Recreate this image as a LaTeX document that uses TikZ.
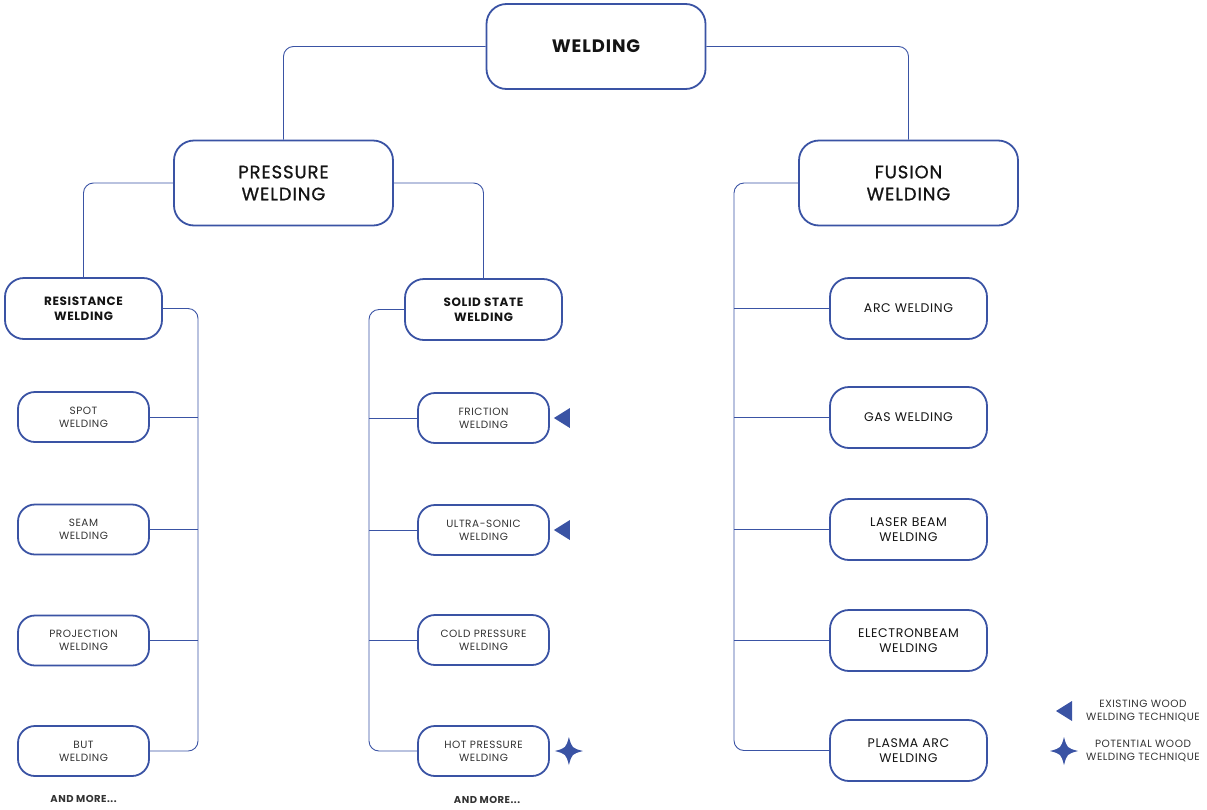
\documentclass[tikz,border=0pt]{standalone}
\usepackage{fontspec}
\setmainfont{Poppins}[LetterSpace=5]
\newfontfamily\headfont{Poppins}[LetterSpace=5, FakeBold=0.8]
\definecolor{wblue}{HTML}{3A53A4}
\definecolor{wtext}{HTML}{141414}
\definecolor{wgray}{HTML}{333333}

\begin{document}
\begin{tikzpicture}[x=1pt,y=-1pt,
  box/.style={draw=wblue, line width=1.8pt, align=center, inner sep=0pt, text=wtext, fill=white},
  bigbox/.style={box, minimum width=219pt, minimum height=85pt, rounded corners=20pt,
    font=\headfont\fontsize{18}{22}\selectfont},
  midbox/.style={box, minimum width=157pt, minimum height=61pt, rounded corners=19pt,
    font=\fontsize{12.5}{15}\selectfont},
  leafbox/.style={box, minimum width=131pt, minimum height=50pt, rounded corners=17pt,
    font=\fontsize{10.5}{13}\selectfont, text=wgray},
  conn/.style={draw=wblue, line width=0.9pt, rounded corners=10pt},
  more/.style={font=\fontsize{10}{10}\selectfont\bfseries, text=wgray},
  legend/.style={align=center, font=\fontsize{10.5}{13}\selectfont, text=wgray},
  existing/.pic={\fill[wblue] (-8,0) -- (8,-10) -- (8,10) -- cycle;},
  potential/.pic={\fill[wblue] (0,-14) .. controls (3,-3) .. (14,0)
     .. controls (3,3) .. (0,14) .. controls (-3,3) .. (-14,0)
     .. controls (-3,-3) .. cycle;}]

\useasboundingbox (0,0) rectangle (1207,809);

% top level
\node[bigbox, font=\fontsize{18}{22}\selectfont\bfseries] (weld) at (596,46.5) {WELDING};
\node[bigbox] (press) at (283.5,183) {PRESSURE\\WELDING};
\node[bigbox] (fusion) at (908.5,183) {FUSION\\WELDING};

% pressure welding branches
\node[midbox, font=\fontsize{12}{15}\selectfont\bfseries] (resist) at (83.5,308.5) {RESISTANCE\\WELDING};
\node[midbox, font=\fontsize{12}{15}\selectfont\bfseries] (solid) at (483.5,309.5) {SOLID STATE\\WELDING};

% resistance welding
\node[leafbox] (spot) at (83.5,417) {SPOT\\WELDING};
\node[leafbox] (seam) at (83.5,529.5) {SEAM\\WELDING};
\node[leafbox] (proj) at (83.5,640.5) {PROJECTION\\WELDING};
\node[leafbox] (but) at (83.5,751) {BUT\\WELDING};

% solid state welding
\node[leafbox] (friction) at (483.5,418) {FRICTION\\WELDING};
\node[leafbox] (ultra) at (483.5,530) {ULTRA-SONIC\\WELDING};
\node[leafbox] (cold) at (483.5,640) {COLD PRESSURE\\WELDING};
\node[leafbox] (hot) at (483.5,751) {HOT PRESSURE\\WELDING};

% fusion welding
\node[midbox] (arc) at (908.5,308.5) {ARC WELDING};
\node[midbox] (gas) at (908.5,417.5) {GAS WELDING};
\node[midbox] (laser) at (908.5,529.5) {LASER BEAM\\WELDING};
\node[midbox] (ebeam) at (908.5,640.5) {ELECTRONBEAM\\WELDING};
\node[midbox] (plasma) at (908.5,750.5) {PLASMA ARC\\WELDING};

% bus lines
\coordinate (rbus) at (198,0);
\coordinate (sbus) at (369,0);
\coordinate (fbus) at (734,0);

% connectors
\draw[conn] (weld.west) -| (press.north);
\draw[conn] (weld.east) -| (fusion.north);
\draw[conn] (press.west) -| (resist.north);
\draw[conn] (press.east) -| (solid.north);

\draw[conn] (resist.east) -| (but.east -| rbus) -- (but.east);
\draw[conn, rounded corners=0pt] (spot.east) -- (spot.east -| rbus);
\draw[conn, rounded corners=0pt] (seam.east) -- (seam.east -| rbus);
\draw[conn, rounded corners=0pt] (proj.east) -- (proj.east -| rbus);

\draw[conn] (solid.west) -| (hot.west -| sbus) -- (hot.west);
\draw[conn, rounded corners=0pt] (friction.west) -- (friction.west -| sbus);
\draw[conn, rounded corners=0pt] (ultra.west) -- (ultra.west -| sbus);
\draw[conn, rounded corners=0pt] (cold.west) -- (cold.west -| sbus);

\draw[conn] (fusion.west) -| (plasma.west -| fbus) -- (plasma.west);
\draw[conn, rounded corners=0pt] (arc.west) -- (arc.west -| fbus);
\draw[conn, rounded corners=0pt] (gas.west) -- (gas.west -| fbus);
\draw[conn, rounded corners=0pt] (laser.west) -- (laser.west -| fbus);
\draw[conn, rounded corners=0pt] (ebeam.west) -- (ebeam.west -| fbus);

% markers for wood welding techniques
\path (friction.east) ++(12,0) pic {existing};
\path (ultra.east) ++(12,0) pic {existing};
\path (hot.east) ++(19,0) pic {potential};

% trailing notes
\node[more] (moreA) at (83.5,799) {AND MORE...};
\node[more] (moreB) at (487,800) {AND MORE...};

% legend
\path (1064,711) pic {existing};
\node[legend] (legA) at (1143,711) {EXISTING WOOD\\WELDING TECHNIQUE};
\path (1064,751) pic {potential};
\node[legend] (legB) at (1143,751) {POTENTIAL WOOD\\WELDING TECHNIQUE};
\end{tikzpicture}
\end{document}
